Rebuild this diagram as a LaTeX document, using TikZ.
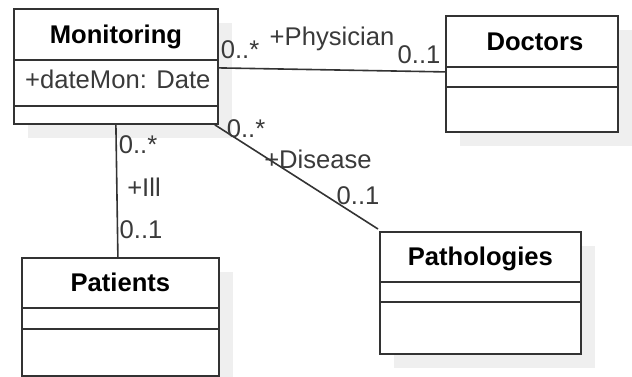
\documentclass[tikz,border=0pt]{standalone}
\usepackage{fontspec}
\setmainfont{Liberation Sans}
\usetikzlibrary{calc,shadows}
\definecolor{edge}{HTML}{333333}
\definecolor{shade}{HTML}{EFEFEF}
\definecolor{labelgray}{HTML}{3A3A3A}
\begin{document}
\begin{tikzpicture}[x=1pt,y=-1pt,
  classbox/.style={draw=edge, line width=1.8pt, fill=white, inner sep=0pt,
    anchor=north west,
    drop shadow={shadow xshift=14pt, shadow yshift=-14pt, fill=shade, opacity=1}},
  classtitle/.style={anchor=base, inner sep=0pt, font=\fontsize{25.6}{30}\selectfont\bfseries},
  attr/.style={anchor=base west, inner sep=0pt, font=\fontsize{25.6}{30}\selectfont, text=labelgray},
  compart/.style={draw=edge, line width=1.8pt},
  assoc/.style={draw=edge, line width=1.6pt},
  role/.style={anchor=base, inner sep=0pt, font=\fontsize{25.6}{30}\selectfont, text=labelgray}]
\useasboundingbox (0,0) rectangle (632,376);

% class boxes
\node[classbox, minimum width=204pt, minimum height=115pt] (mon) at (13,8) {};
\node[classbox, minimum width=172pt, minimum height=116pt] (doc) at (445,15) {};
\node[classbox, minimum width=197pt, minimum height=118pt] (pat) at (21,257) {};
\node[classbox, minimum width=201pt, minimum height=122pt] (path) at (379,231) {};

% compartments
\draw[compart] ($(mon.north west)+(0,52)$) -- ($(mon.north east)+(0,52)$);
\draw[compart] ($(mon.north west)+(0,98)$) -- ($(mon.north east)+(0,98)$);
\draw[compart] ($(doc.north west)+(0,52)$) -- ($(doc.north east)+(0,52)$);
\draw[compart] ($(doc.north west)+(0,72)$) -- ($(doc.north east)+(0,72)$);
\draw[compart] ($(pat.north west)+(0,51)$) -- ($(pat.north east)+(0,51)$);
\draw[compart] ($(pat.north west)+(0,72)$) -- ($(pat.north east)+(0,72)$);
\draw[compart] ($(path.north west)+(0,51)$) -- ($(path.north east)+(0,51)$);
\draw[compart] ($(path.north west)+(0,71)$) -- ($(path.north east)+(0,71)$);

% class names and attributes
\node[classtitle] (monT) at ($(mon.north)+(0,35)$) {Monitoring};
\node[classtitle] (docT) at ($(doc.north)+(3,35)$) {Doctors};
\node[classtitle] (patT) at ($(pat.north)+(0,34)$) {Patients};
\node[classtitle] (pathT) at ($(path.north)+(0,34)$) {Pathologies};
\node[attr] (monA) at ($(mon.north west)+(12,80)$) {+dateMon: Date};

% associations
\draw[assoc] ($(mon.east)+(0,1.5)$) -- ($(doc.west)+(0,-2)$);
\draw[assoc] (mon.south) -- ($(pat.north)+(-2.5,0)$);
\draw[assoc] ($(mon.south east)+(-4,0)$) -- ($(path.north west)+(-1,-2)$);

% role names and multiplicities
\node[role] (r1a) at (240,58) {0..*};
\node[role] (r1b) at (332,45) {+Physician};
\node[role] (r1c) at (419,63) {0..1};
\node[role] (r2a) at (246,137) {0..*};
\node[role] (r2b) at (318,168) {+Disease};
\node[role] (r2c) at (358,204) {0..1};
\node[role] (r3a) at (138,153) {0..*};
\node[role] (r3b) at (144,196) {+Ill};
\node[role] (r3c) at (141,238) {0..1};
\end{tikzpicture}
\end{document}
